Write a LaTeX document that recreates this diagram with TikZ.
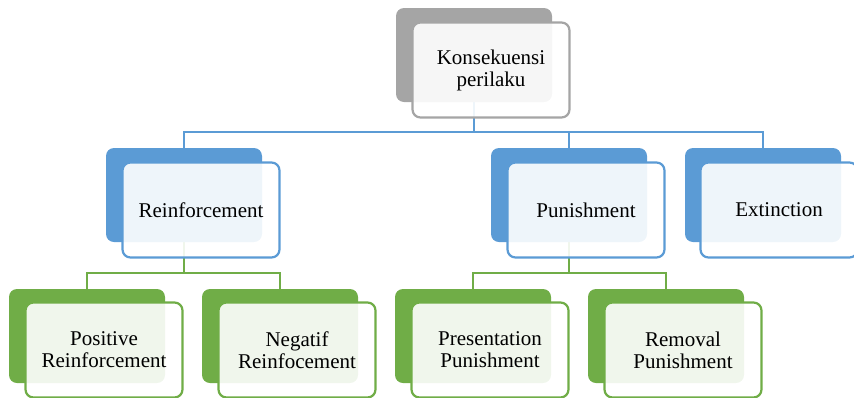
\documentclass[tikz,border=0pt]{standalone}
\usepackage{fontspec}
\setmainfont{Liberation Serif}
\usepackage{tikz}
\usetikzlibrary{positioning,backgrounds,calc}

\definecolor{kgray}{HTML}{A5A5A5}
\definecolor{kblue}{HTML}{5B9BD5}
\definecolor{kgreen}{HTML}{70AD47}

\begin{document}
\begin{tikzpicture}[
  x=1pt,y=-1pt,
  font=\fontsize{21}{22}\selectfont,
  backbox/.style={rounded corners=8pt,minimum width=156pt,minimum height=94pt,inner sep=0pt,fill=#1,draw=none},
  frontbox/.style={rounded corners=8pt,minimum width=157pt,minimum height=95pt,inner sep=0pt,align=center,
    draw=#1,line width=2.2pt,fill=white,fill opacity=0.9,text opacity=1},
  link/.style={line width=2.2pt,draw=#1},
]
\useasboundingbox (0,0) rectangle (854,397);

% top
\node[backbox=kgray] (kons) at (474,55) {};
\node[frontbox=kgray] (konsf) at (491,70) {Konsekuensi\\perilaku};

% second level
\node[backbox=kblue] (reinf) at (184,195) {};
\node[frontbox=kblue] (reinff) at (201,210) {Reinforcement};
\node[backbox=kblue] (pun) at (569,195) {};
\node[frontbox=kblue] (punf) at (586,210) {Punishment};
\node[backbox=kblue] (ext) at (763,195) {};
\node[frontbox=kblue] (extf) at (779,210) {Extinction};

% third level
\node[backbox=kgreen] (pos) at (87,336) {};
\node[frontbox=kgreen] (posf) at (104,350) {Positive\\Reinforcement};
\node[backbox=kgreen] (neg) at (280,336) {};
\node[frontbox=kgreen] (negf) at (297,350) {Negatif\\Reinfocement};
\node[backbox=kgreen] (pres) at (473,336) {};
\node[frontbox=kgreen] (presf) at (490,350) {Presentation\\Punishment};
\node[backbox=kgreen] (rem) at (666,336) {};
\node[frontbox=kgreen] (remf) at (683,350) {Removal\\Punishment};

% connectors
\begin{scope}[on background layer]
  \draw[link=kblue] (kons.south) -- ++(0,30) -| (reinf.north);
  \draw[link=kblue] (kons.south) -- ++(0,30) -| (pun.north);
  \draw[link=kblue] (kons.south) -- ++(0,30) -| (ext.north);
  \draw[link=kgreen] (reinf.south) -- ++(0,31) -| (pos.north);
  \draw[link=kgreen] (reinf.south) -- ++(0,31) -| (neg.north);
  \draw[link=kgreen] (pun.south) -- ++(0,31) -| (pres.north);
  \draw[link=kgreen] (pun.south) -- ++(0,31) -| (rem.north);
\end{scope}
\end{tikzpicture}
\end{document}
